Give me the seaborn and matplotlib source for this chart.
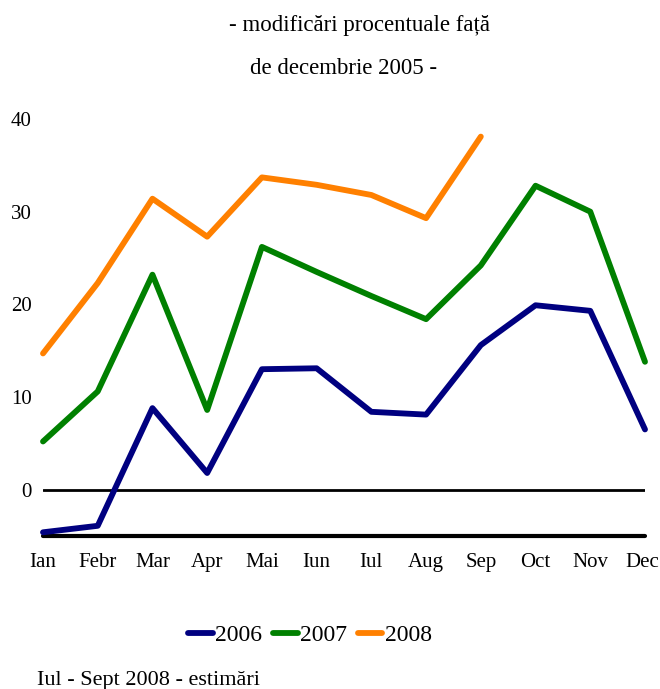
import matplotlib
matplotlib.use("Agg")
import matplotlib.pyplot as plt
import matplotlib.transforms as mtransforms
import seaborn as sns
import pandas as pd

months = ["Ian", "Febr", "Mar", "Apr", "Mai", "Iun", "Iul", "Aug", "Sep", "Oct", "Nov", "Dec"]
v2006 = [-4.6, -3.9, 8.8, 1.8, 13.0, 13.1, 8.4, 8.1, 15.6, 19.9, 19.3, 6.5]
v2007 = [5.2, 10.6, 23.2, 8.6, 26.2, 23.5, 20.9, 18.4, 24.2, 32.8, 30.0, 13.8]
v2008 = [14.7, 22.3, 31.4, 27.3, 33.7, 32.9, 31.8, 29.3, 38.1]
years = ["2006", "2007", "2008"]
yticks = [0, 10, 20, 30, 40]
colors = {"2006": "#000080", "2007": "#008000", "2008": "#FF8000"}

rows = []
for yr, vals in zip(years, [v2006, v2007, v2008]):
    for i, v in enumerate(vals):
        rows.append({"idx": i, "val": v, "year": yr})
df = pd.DataFrame(rows)

sns.set_style("white")
plt.rcParams["font.family"] = ["Liberation Serif", "DejaVu Serif"]
plt.rcParams["text.color"] = "black"
plt.rcParams["xtick.color"] = "black"
plt.rcParams["ytick.color"] = "black"

fig = plt.figure(figsize=(6.6, 6.89), dpi=100)
ax = fig.add_axes([43/660, 1-536/689, (645-43)/660, (536-119)/689])

sns.lineplot(data=df, x="idx", y="val", hue="year", palette=colors,
             linewidth=4.2, legend=False, ax=ax, solid_capstyle="round")
for ln in ax.get_lines():
    ln.set_clip_on(False)
    ln.set_solid_joinstyle("round")
ax.axhline(0, color="black", linewidth=2, zorder=1)
ax.axhline(-5, color="black", linewidth=3, zorder=1, clip_on=False)

ax.set_xlim(0, 11)
ax.set_ylim(-5, 40)
ax.set_xticks(range(len(months)))
ax.set_xticklabels(months, fontsize=15)
ax.set_yticks(yticks)
ax.set_yticklabels([str(t) for t in yticks], fontsize=15)
ax.tick_params(axis="both", length=0)
ax.tick_params(axis="y", pad=8)
ax.tick_params(axis="x", pad=12)
ax.set_xlabel("")
ax.set_ylabel("")
for s in ax.spines.values():
    s.set_visible(False)

# nudge last month label so it stays inside the figure
last = ax.get_xticklabels()[-1]
last.set_transform(last.get_transform() +
                   mtransforms.ScaledTranslation(-3/100, 0, fig.dpi_scale_trans))

fig.text(0.544, 1-25/689, "- modificări procentuale față", ha="center", va="center", fontsize=16.5)
fig.text(0.521, 1-68/689, "de decembrie 2005 -", ha="center", va="center", fontsize=16.5)

handles = ax.get_lines()[:3]
fig.legend(handles, years, loc="center", bbox_to_anchor=(310/660, 1-635/689),
           ncol=3, frameon=False, fontsize=17, handlelength=1.05, handletextpad=0.1,
           columnspacing=0.45)
fig.text(37/660, 1-681/689, "Iul - Sept 2008 - estimări", ha="left", va="center", fontsize=16)

fig.savefig("out.png", dpi=100)
